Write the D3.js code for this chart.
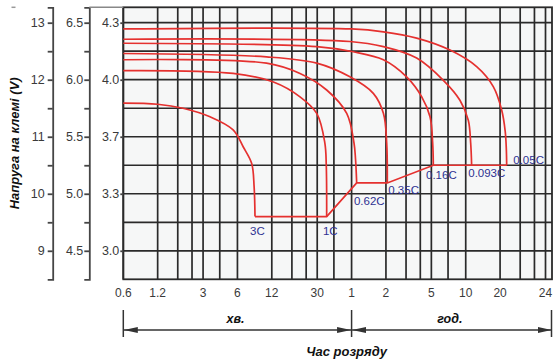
<!DOCTYPE html>
<html>
<head>
<meta charset="utf-8">
<script src="https://cdn.jsdelivr.net/npm/d3@7"></script>
<style>
  body { margin: 0; background: #fff; }
  svg { display: block; }
  text { font-family: 'Liberation Sans', Arial, sans-serif; }
</style>
</head>
<body>
<svg id="chart" width="553" height="361"></svg>
<script>
// discharge time in minutes, terminal voltage on the 12 V scale
const rates = ['3C', '1C', '0.62C', '0.35C', '0.16C', '0.093C', '0.05C']

const curve3C = [[0.6, 11.59], [1.2, 11.57], [2.0, 11.5], [3.45, 11.35], [5.5, 11.12], [6.75, 10.82], [8.0, 10.53], [8.4, 10.12], [8.55, 9.6]]
const curve1C = [[0.6, 12.16], [5.5, 12.11], [12.4, 11.96], [21.2, 11.7], [29.7, 11.41], [35, 10.89], [36, 10.5], [36.3, 9.6]]
const curve062C = [[0.6, 12.35], [10.8, 12.29], [21.2, 12.11], [36.3, 11.82], [54.4, 11.41], [63, 10.89], [65, 10.6], [66.5, 10.19]]
const curve035C = [[0.6, 12.46], [10.8, 12.4], [29.7, 12.29], [58, 12.05], [93, 11.76], [114, 11.41], [121.8, 10.89], [123.3, 10.19]]
const curve016C = [[0.6, 12.64], [29.7, 12.58], [62, 12.49], [114, 12.35], [182, 12.05], [247, 11.7], [292, 11.35], [308, 10.89], [312, 10.5]]
const curve0093C = [[0.6, 12.71], [58, 12.67], [114, 12.58], [223, 12.38], [382, 11.99], [534, 11.64], [632, 11.29], [663, 10.89], [676, 10.5]]
const curve005C = [[0.6, 12.89], [60, 12.89], [114, 12.84], [223, 12.73], [437, 12.52], [748, 12.23], [1046, 11.88], [1239, 11.47], [1330, 11.1], [1360, 10.8], [1371, 10.5]]

const curves = [curve3C, curve1C, curve062C, curve035C, curve016C, curve0093C, curve005C]

// grid and ticks
const xGrid = [0.6, 1.2, 1.8, 2.4, 3, 4.2, 6, 12, 18, 24, 30, 42, 60, 120, 180, 240, 300, 420, 600, 1200, 1800, 2400, 3000]
const xTickValues = [0.6, 1.2, 3, 6, 12, 30, 60, 120, 300, 600, 1200, 3000]
const xTickLabels = ['0.6', '1.2', '3', '6', '12', '30', '1', '2', '5', '10', '20', '24']
const yGrid = [9, 9.5, 10, 10.5, 11, 11.5, 12, 12.5, 13]
const yTicks = [13, 12, 11, 10, 9]
const yLabels12 = ['13', '12', '11', '10', '9']
const yLabels6 = ['6.5', '6.0', '5.5', '5.0', '4.5']
const yLabelsCell = ['4.3', '4.0', '3.7', '3.3', '3.0']
const minuteEnd = 60 // boundary between хв. and год.

const svg = d3.select('#chart')

const x = d3.scaleLog().domain([0.6, 3420]).range([123.3, 552])
const y = d3.scaleLinear().domain([8.5, 13.27]).range([279.3, 7.3])

const gridColour = '#2a2a2a'
const axisColour = '#454545'
const red = '#e5312f'
const navy = '#2e3192'

const [x0, x1] = x.range()
const [yb, yt] = y.range()

// plot background
svg.append('rect')
  .attr('x', x0).attr('y', yt)
  .attr('width', x1 - x0).attr('height', yb - yt)
  .attr('fill', '#f6f7f7')

// grid
const grid = svg.append('g')
  .attr('stroke', gridColour)
  .attr('stroke-width', 1.7)

grid.selectAll('.vgrid')
  .data(xGrid)
  .join('line')
  .attr('x1', (d) => x(d)).attr('x2', (d) => x(d))
  .attr('y1', yt).attr('y2', yb)

grid.selectAll('.hgrid')
  .data(yGrid)
  .join('line')
  .attr('x1', x0).attr('x2', x1)
  .attr('y1', (d) => y(d)).attr('y2', (d) => y(d))

svg.append('rect')
  .attr('x', x0).attr('y', yt)
  .attr('width', x1 - x0).attr('height', yb - yt)
  .attr('fill', 'none')
  .attr('stroke', gridColour)
  .attr('stroke-width', 1.8)

// curves
const line = d3.line()
  .x((d) => x(d[0]))
  .y((d) => y(d[1]))
  .curve(d3.curveCatmullRom.alpha(0.5))

svg.append('g')
  .attr('fill', 'none')
  .attr('stroke', red)
  .attr('stroke-width', 1.7)
  .selectAll('path')
  .data(curves)
  .join('path')
  .attr('d', line)

// cut-off line joining the curve ends
const ends = curves.map((c) => c[c.length - 1])
svg.append('path')
  .attr('fill', 'none')
  .attr('stroke', red)
  .attr('stroke-width', 1.7)
  .attr('d', d3.line().x((d) => x(d[0])).y((d) => y(d[1]))(ends))

// rate labels, nudged off the curve ends
const labelNudge = [[-5, 18.3], [-3.7, 18.3], [-2.7, 22], [1, 10.6], [-7.3, 14], [-3.4, 12], [6.6, -1.7]]
svg.append('g')
  .selectAll('text')
  .data(rates)
  .join('text')
  .attr('x', (d, i) => x(ends[i][0]) + labelNudge[i][0])
  .attr('y', (d, i) => y(ends[i][1]) + labelNudge[i][1])
  .attr('font-size', 11.5)
  .attr('fill', navy)
  .text((d) => d)

// y axes
function styleAxis(g) {
  g.selectAll('path, line').attr('stroke', axisColour).attr('stroke-width', 1.8)
  g.selectAll('text').attr('font-size', 12.5).attr('fill', '#3a3a3a').attr('font-family', "'Liberation Sans', Arial, sans-serif")
}

const axis12 = d3.axisLeft(y)
  .tickValues(yGrid)
  .tickFormat((d) => (yTicks.includes(d) ? yLabels12[yTicks.indexOf(d)] : ''))
  .tickSize(5)
  .tickSizeOuter(5)
  .tickPadding(3)
svg.append('g').attr('transform', 'translate(52.7,0)').call(axis12).call(styleAxis)

const axis6 = d3.axisLeft(y)
  .tickValues(yGrid)
  .tickFormat((d) => (yTicks.includes(d) ? yLabels6[yTicks.indexOf(d)] : ''))
  .tickSize(5)
  .tickSizeOuter(5)
  .tickPadding(1)
svg.append('g').attr('transform', 'translate(89.3,0)').call(axis6).call(styleAxis)

const axisCell = d3.axisLeft(y)
  .tickValues(yTicks)
  .tickFormat((d, i) => yLabelsCell[i])
  .tickSize(3)
  .tickSizeOuter(0)
  .tickPadding(1)
svg.append('g').attr('transform', `translate(${x0},0)`).call(axisCell).call(styleAxis)
  .call((g) => g.select('.domain').remove())

// small top links
svg.append('line')
  .attr('x1', 89.3).attr('x2', x0).attr('y1', yt).attr('y2', yt)
  .attr('stroke', '#888').attr('stroke-width', 1.5)
svg.append('line')
  .attr('x1', 11.5).attr('x2', 15.5).attr('y1', yt).attr('y2', yt)
  .attr('stroke', '#999').attr('stroke-width', 1.5)

svg.append('text')
  .attr('transform', `translate(19,${(yt + yb) / 2}) rotate(-90)`)
  .attr('text-anchor', 'middle')
  .attr('font-size', 13)
  .attr('font-weight', 'bold')
  .attr('font-style', 'italic')
  .attr('fill', '#111')
  .text('Напруга на клемі (V)')

// x tick labels
svg.append('g')
  .selectAll('text')
  .data(xTickValues)
  .join('text')
  .attr('x', (d) => x(d))
  .attr('y', 296.5)
  .attr('text-anchor', 'middle')
  .attr('font-size', 12)
  .attr('fill', '#3a3a3a')
  .text((d, i) => xTickLabels[i])

// time span markers
svg.append('defs')
  .append('marker')
  .attr('id', 'arrow')
  .attr('viewBox', '0 0 14 6')
  .attr('refX', 14).attr('refY', 3)
  .attr('markerWidth', 14).attr('markerHeight', 6)
  .attr('markerUnits', 'userSpaceOnUse')
  .attr('orient', 'auto-start-reverse')
  .append('path')
  .attr('d', 'M0,0L14,3L0,6Z')
  .attr('fill', '#333')

const spans = [[0.6, minuteEnd, 'хв.'], [minuteEnd, x.domain()[1], 'год.']]
const spanY = 330
spans.forEach(([a, b, label]) => {
  const xa = x(a) + 0.5
  const xb = Math.min(x(b), 552) - 0.5
  svg.append('line')
    .attr('x1', xa).attr('x2', xb).attr('y1', spanY).attr('y2', spanY)
    .attr('stroke', '#333').attr('stroke-width', 1.5)
    .attr('marker-start', 'url(#arrow)')
    .attr('marker-end', 'url(#arrow)')
  svg.append('text')
    .attr('x', (xa + xb) / 2 - 2)
    .attr('y', 322.5)
    .attr('text-anchor', 'middle')
    .attr('font-size', 12.5)
    .attr('font-weight', 'bold')
    .attr('font-style', 'italic')
    .attr('fill', '#111')
    .text(label)
})

svg.append('g')
  .selectAll('line')
  .data([0.6, minuteEnd, x.domain()[1]])
  .join('line')
  .attr('x1', (d) => Math.min(x(d), 551.5)).attr('x2', (d) => Math.min(x(d), 551.5))
  .attr('y1', 310).attr('y2', 337)
  .attr('stroke', '#333').attr('stroke-width', 1.5)

svg.append('text')
  .attr('x', x(minuteEnd) - 5)
  .attr('y', 355.5)
  .attr('text-anchor', 'middle')
  .attr('font-size', 13)
  .attr('font-weight', 'bold')
  .attr('font-style', 'italic')
  .attr('fill', '#111')
  .text('Час розряду')
</script>
</body>
</html>
